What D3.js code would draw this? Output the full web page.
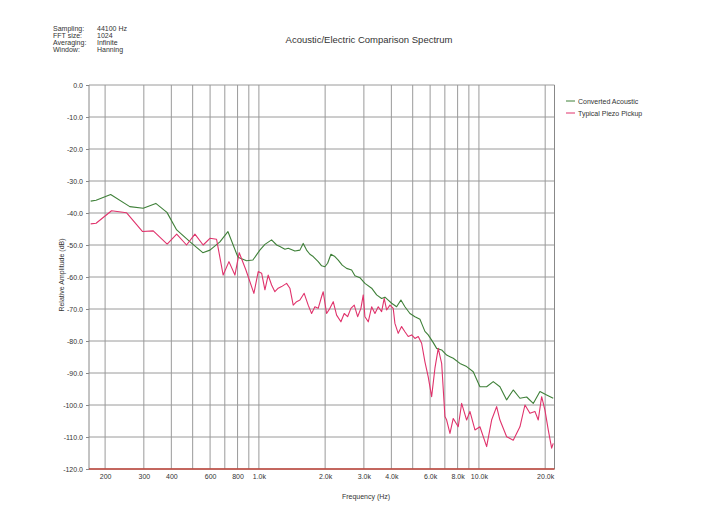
<!DOCTYPE html>
<html>
<head>
<meta charset="utf-8">
<script src="https://cdn.jsdelivr.net/npm/d3@7"></script>
<style>
  body { margin: 0; background: #fff; }
  text { font-family: "Liberation Sans", Arial, sans-serif; fill: #333; }
</style>
</head>
<body>
<svg id="chart" width="706" height="506"></svg>
<script>
// data (Hz / dB)
var acousticFreq = [172,182,212,259,298,340,382,423,494,556,599,665,723,803,879,939,1010,1065,1142,1204,1246,1313,1359,1458,1536,1590,1647,1705,1765,1860,1928,1995,2053,2125,2215,2294,2391,2503,2639,2732,2878,3033,3254,3428,3612,3739,3870,4011,4226,4420,4609,4858,5119,5394,5490,5683,5882,6200,6424,6770,7133,7384,7643,8197,8793,9421,10105,10839,11614,12458,13363,14318,15358,16475,17652,18935,20311,21764];
var acousticDb = [-36.3,-36.0,-34.2,-38.0,-38.5,-37.0,-39.8,-45.3,-49.4,-52.4,-51.6,-49.0,-45.8,-53.8,-54.9,-54.7,-51.6,-49.8,-48.4,-50.0,-50.5,-51.3,-51.0,-51.9,-51.6,-49.5,-51.6,-52.9,-53.6,-55.2,-56.5,-56.8,-55.7,-52.9,-53.6,-54.7,-56.3,-57.3,-57.8,-59.6,-60.2,-62.0,-63.5,-65.6,-66.7,-66.3,-67.2,-68.2,-69.3,-67.2,-69.3,-71.4,-72.4,-73.2,-74.5,-77.0,-78.1,-80.5,-82.3,-82.8,-84.4,-84.9,-85.4,-87.0,-88.0,-89.6,-94.3,-94.3,-92.7,-94.3,-98.4,-95.3,-97.9,-97.5,-99.5,-95.8,-96.9,-97.9];

var piezoFreq = [172,182,214,250,296,331,383,423,469,512,558,599,642,688,731,778,814,873,949,993,1029,1065,1102,1142,1182,1224,1268,1336,1383,1432,1484,1536,1606,1675,1736,1797,1860,1928,1960,2031,2102,2177,2255,2359,2442,2530,2619,2712,2810,2908,2980,3033,3140,3254,3368,3486,3612,3711,3806,3940,4078,4151,4297,4452,4609,4771,4944,5119,5299,5490,5683,5882,6095,6310,6531,6770,7006,7133,7384,7643,8052,8344,8793,9101,9590,10105,10839,11420,12034,12458,13363,14318,15358,16186,17053,17966,18601,19275,19953,20654,21402,21764];
var piezoDb = [-43.4,-43.2,-39.3,-39.9,-45.8,-45.6,-49.7,-46.6,-50.0,-46.6,-50.0,-47.9,-48.2,-59.4,-55.2,-59.4,-52.4,-57.8,-65.1,-58.3,-58.8,-64.0,-59.4,-62.5,-64.6,-63.5,-63.0,-62.0,-63.5,-68.8,-67.7,-67.2,-65.1,-68.8,-71.4,-69.3,-69.8,-66.1,-64.6,-71.4,-69.8,-67.7,-71.9,-74.0,-71.4,-72.4,-69.8,-68.8,-72.4,-69.8,-65.6,-72.4,-74.0,-69.3,-71.4,-69.3,-70.8,-66.7,-70.3,-68.8,-69.8,-74.5,-77.6,-75.5,-77.1,-78.6,-78.1,-79.2,-78.6,-80.7,-86.5,-91.2,-97.4,-88.5,-82.3,-87.0,-103.6,-104.7,-108.9,-104.2,-106.8,-99.5,-104.7,-102.0,-107.8,-106.8,-113.0,-104.7,-100.5,-104.7,-109.9,-111.0,-106.8,-100.0,-102.6,-102.0,-104.7,-97.4,-101.6,-107.8,-113.5,-112.0];

var yTicks = [0,-10,-20,-30,-40,-50,-60,-70,-80,-90,-100,-110,-120];
var xLabelVals = [200,300,400,600,800,1000,2000,3000,4000,6000,8000,10000,20000];
var xLabels = ['200','300','400','600','800','1.0k','2.0k','3.0k','4.0k','6.0k','8.0k','10.0k','20.0k'];
var xGridVals = [200,300,400,500,600,700,800,900,1000,2000,3000,4000,5000,6000,7000,8000,9000,10000,20000];

var infoKeys = ['Sampling:','FFT size:','Averaging:','Window:'];
var infoVals = ['44100 Hz','1024','Infinite','Hanning'];

var seriesNames = ['Converted Acoustic','Typical Piezo Pickup'];
var seriesColors = ['#3f8039','#e0336c'];

var svg = d3.select('#chart');
svg.append('rect').attr('width', 706).attr('height', 506).attr('fill', '#fff');

var x = d3.scaleLog().domain([169, 22050]).range([89, 554.5]);
var y = d3.scaleLinear().domain([-120, 0]).range([469, 85]);

// grid
svg.append('g').selectAll('line.h')
  .data(yTicks).enter().append('line')
    .attr('x1', 89).attr('x2', 554.5)
    .attr('y1', d => y(d)).attr('y2', d => y(d))
    .attr('stroke', '#9a9a9a').attr('stroke-width', 1);

svg.append('g').selectAll('line.v')
  .data(xGridVals).enter().append('line')
    .attr('x1', d => x(d)).attr('x2', d => x(d))
    .attr('y1', 85).attr('y2', 469)
    .attr('stroke', '#9a9a9a').attr('stroke-width', 1);

// frame
svg.append('line').attr('x1', 89).attr('x2', 89).attr('y1', 85).attr('y2', 469)
  .attr('stroke', '#888');
svg.append('line').attr('x1', 554.5).attr('x2', 554.5).attr('y1', 85).attr('y2', 469)
  .attr('stroke', '#888');

// y axis
var yAxis = svg.append('g')
  .attr('transform', 'translate(89,0)')
  .call(d3.axisLeft(y).tickValues(yTicks).tickSize(3).tickFormat(d3.format('.1f')));
yAxis.select('.domain').remove();
yAxis.selectAll('line').attr('stroke', '#888');
yAxis.selectAll('text').attr('font-size', 7).attr('fill', '#444')
  .attr('font-family', '"Liberation Sans", Arial, sans-serif')
  .text(d => d3.format('.1f')(d).replace('−', '-'));

// x axis
var xAxis = svg.append('g')
  .attr('transform', 'translate(0,469)')
  .call(d3.axisBottom(x).tickValues(xLabelVals).tickSize(0).tickPadding(5)
    .tickFormat((d, i) => xLabels[i]));
xAxis.select('.domain').remove();
xAxis.selectAll('text').attr('font-size', 7).attr('fill', '#444')
  .attr('font-family', '"Liberation Sans", Arial, sans-serif');

// baseline
svg.append('line').attr('x1', 89).attr('x2', 554.5).attr('y1', 469).attr('y2', 469)
  .attr('stroke', '#c0453a').attr('stroke-width', 1.5);

// series
var line = d3.line().x(d => x(d[0])).y(d => y(d[1]));
var series = [
  d3.zip(acousticFreq, acousticDb),
  d3.zip(piezoFreq, piezoDb)
];
svg.append('g').selectAll('path')
  .data(series).enter().append('path')
    .attr('d', line)
    .attr('fill', 'none')
    .attr('stroke', (d, i) => seriesColors[i])
    .attr('stroke-width', 1.1)
    .attr('stroke-linejoin', 'round');

// titles
svg.append('text').attr('x', 369).attr('y', 43).attr('text-anchor', 'middle')
  .attr('font-size', 9.5).text('Acoustic/Electric Comparison Spectrum');
svg.append('text').attr('x', 366).attr('y', 499).attr('text-anchor', 'middle')
  .attr('font-size', 7).text('Frequency (Hz)');
svg.append('text').attr('transform', 'translate(64,275) rotate(-90)')
  .attr('text-anchor', 'middle').attr('font-size', 7).text('Relative Amplitude (dB)');

// info block
var info = svg.append('g').selectAll('g')
  .data(infoKeys).enter().append('g')
    .attr('transform', (d, i) => 'translate(53,' + (31 + i * 7) + ')');
info.append('text').attr('font-size', 7).text(d => d);
info.append('text').attr('x', 44).attr('font-size', 7).text((d, i) => infoVals[i]);

// legend
var leg = svg.append('g').selectAll('g')
  .data(seriesNames).enter().append('g')
    .attr('transform', (d, i) => 'translate(566,' + (101 + i * 12) + ')');
leg.append('line').attr('x1', 0).attr('x2', 9).attr('y1', 0).attr('y2', 0)
  .attr('stroke', (d, i) => seriesColors[i]);
leg.append('text').attr('x', 12).attr('y', 2.5).attr('font-size', 7)
  .attr('fill', (d, i) => seriesColors[i]).text(d => d);
</script>
</body>
</html>
